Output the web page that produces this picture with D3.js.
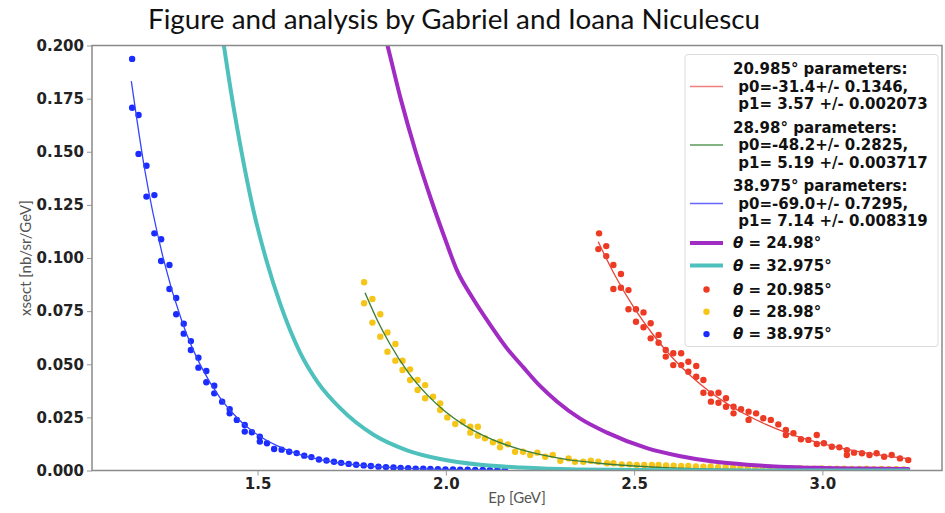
<!DOCTYPE html>
<html>
<head>
<meta charset="utf-8">
<script src="https://cdnjs.cloudflare.com/ajax/libs/d3/7.8.5/d3.min.js"></script>
<style>
  body { margin: 0; background: #fff; }
  svg { display: block; }
</style>
</head>
<body>
<div id="grafico"></div>
<script>
// eixo x e y
const xTicks = [1.5, 2.0, 2.5, 3.0];
const yTicks = [0, 0.025, 0.05, 0.075, 0.1, 0.125, 0.15, 0.175, 0.2];

// 20.985 graus, pontos
const redEp = [2.407,2.405,2.426,2.426,2.445,2.445,2.465,2.465,2.485,2.485,2.505,2.505,2.525,2.525,2.544,2.544,2.565,2.565,2.584,2.584,2.604,2.604,2.625,2.625,2.644,2.644,2.665,2.665,2.684,2.684,2.704,2.704,2.724,2.724,2.744,2.744,2.764,2.764,2.784,2.804,2.804,2.824,2.843,2.863,2.883,2.903,2.903,2.923,2.943,2.963,2.985,2.985,3.004,3.025,3.045,3.065,3.065,3.084,3.105,3.125,3.144,3.164,3.184,3.206,3.228];
const redXs = [0.1116,0.1042,0.1056,0.1009,0.0967,0.0854,0.0925,0.086,0.0849,0.0759,0.0759,0.07,0.0744,0.0674,0.0693,0.0622,0.0638,0.0601,0.0567,0.0536,0.0552,0.0496,0.0552,0.0496,0.0512,0.0465,0.0492,0.0441,0.0426,0.0366,0.0363,0.0324,0.0366,0.0319,0.034,0.03,0.03,0.0269,0.0288,0.0277,0.0238,0.0269,0.0246,0.0238,0.0217,0.0191,0.0167,0.0175,0.0147,0.0144,0.0167,0.0125,0.0128,0.0112,0.0109,0.0096,0.0073,0.0084,0.0081,0.0073,0.0081,0.0065,0.0073,0.0057,0.0049];

// 28.98 graus, pontos
const yellowEp = [1.783,1.783,1.805,1.805,1.826,1.826,1.845,1.845,1.866,1.866,1.885,1.885,1.905,1.905,1.925,1.925,1.945,1.945,1.966,1.985,1.985,2.004,2.025,2.045,2.065,2.065,2.085,2.085,2.104,2.125,2.144,2.144,2.165,2.184,2.205,2.224,2.243,2.264,2.284,2.304,2.326,2.343,2.365,2.385,2.405,2.428,2.445,2.467,2.488,2.507,2.527,2.547,2.565,2.585,2.605,2.625,2.644,2.664,2.684,2.703,2.723,2.743,2.763,2.782,2.802,2.822,2.841,2.861,2.881,2.901,2.920,2.940,2.960,2.979,2.999,3.019,3.039,3.058,3.078,3.098,3.117,3.137,3.157,3.177,3.196,3.216];
const yellowXs = [0.0886,0.0787,0.0807,0.0696,0.0735,0.063,0.065,0.0559,0.0595,0.0517,0.0517,0.0473,0.0476,0.0426,0.0426,0.0379,0.0402,0.034,0.0347,0.0316,0.0285,0.025,0.0219,0.023,0.0206,0.0178,0.0206,0.0164,0.0152,0.0133,0.0136,0.0109,0.0123,0.0088,0.0088,0.0073,0.0084,0.0065,0.0073,0.0046,0.0057,0.0041,0.0041,0.0046,0.0041,0.0034,0.0034,0.0029,0.0029,0.0026,0.0026,0.0026,0.0026,0.0024,0.0023,0.0021,0.0022,0.0019,0.0018,0.0019,0.0016,0.0017,0.0015,0.0014,0.0015,0.0013,0.0012,0.0013,0.0011,0.0011,0.001,0.0011,0.0009,0.0009,0.001,0.0008,0.0008,0.0009,0.0007,0.0007,0.0008,0.0006,0.0007,0.0006,0.0006,0.0005];

// 38.975 graus, pontos
const blueEp = [1.167,1.167,1.184,1.184,1.205,1.205,1.226,1.226,1.244,1.244,1.266,1.266,1.284,1.284,1.304,1.304,1.323,1.323,1.343,1.343,1.364,1.364,1.385,1.385,1.406,1.426,1.426,1.445,1.466,1.466,1.485,1.506,1.506,1.525,1.544,1.564,1.584,1.604,1.624,1.643,1.663,1.683,1.703,1.722,1.742,1.762,1.782,1.801,1.821,1.841,1.861,1.880,1.900,1.920,1.940,1.959,1.979,1.999,2.019,2.038,2.058,2.078,2.098,2.117,2.137,2.157];
const blueXs = [0.1937,0.1707,0.1673,0.149,0.1434,0.1289,0.1296,0.1116,0.1088,0.0986,0.0967,0.0854,0.0812,0.0735,0.0691,0.0644,0.0609,0.0567,0.0531,0.0484,0.0468,0.0415,0.0399,0.0363,0.0324,0.0289,0.0269,0.0238,0.0214,0.0183,0.018,0.0159,0.0136,0.0128,0.0101,0.0098,0.0088,0.0082,0.007,0.0063,0.0052,0.0047,0.0041,0.0036,0.0031,0.0027,0.0024,0.0021,0.0018,0.0016,0.0014,0.0012,0.0011,0.0009,0.0008,0.0007,0.0006,0.0005,0.0005,0.0004,0.0004,0.0003,0.0003,0.0002,0.0002,0.0002];

// curvas de ajuste
const redFitEp = [2.405,2.45,2.5,2.55,2.6,2.65,2.7,2.75,2.8,2.85,2.9,2.95,3.0,3.05,3.1,3.15,3.228];
const redFitXs = [0.1075,0.0915,0.0765,0.064,0.0534,0.0446,0.0372,0.0311,0.026,0.0217,0.0181,0.0151,0.0126,0.0105,0.0088,0.0074,0.0056];
const greenFitEp = [1.786,1.82,1.85,1.9,1.95,2.0,2.05,2.1,2.15,2.2,2.3,2.4,2.5,2.6,2.7,2.8,2.9,3.05,3.228];
const greenFitXs = [0.0834,0.0700,0.060,0.0462,0.0357,0.0275,0.0212,0.0164,0.0127,0.0098,0.0058,0.0035,0.0021,0.0012,0.0007,0.0004,0.00025,0.00012,0.00005];
const blueFitEp = [1.165,1.2,1.25,1.3,1.35,1.4,1.45,1.5,1.55,1.6,1.7,1.8,1.9,2.0,2.157];
const blueFitXs = [0.183,0.142,0.0996,0.0698,0.049,0.0343,0.024,0.0168,0.0118,0.0082,0.004,0.002,0.001,0.0005,0.00016];

// curvas grossas
const purpleEp = [1.83,1.845,1.88,1.92,1.96,2.0,2.029,2.07,2.118,2.16,2.206,2.25,2.295,2.356,2.428,2.534,2.62,2.71,2.8,2.887,3.0,3.1,3.228];
const purpleXs = [0.21,0.2,0.175,0.15,0.128,0.108,0.0944,0.0815,0.0685,0.058,0.0485,0.0398,0.0325,0.0245,0.0178,0.0105,0.0068,0.0042,0.0027,0.0018,0.0012,0.0009,0.0007];
const cyanEp = [1.39,1.40,1.42,1.454,1.489,1.525,1.56,1.613,1.66,1.72,1.808,1.897,1.985,2.091,2.2,2.35,2.6,2.9,3.228];
const cyanXs = [0.23,0.214,0.189,0.1532,0.1225,0.098,0.0785,0.0555,0.0415,0.0292,0.0168,0.0095,0.0054,0.0027,0.0014,0.0005,0.0001,0.00003,0.00001];

const legendFits = [
  { color: "#f08080", lines: ["20.985\u00b0 parameters:", " p0=-31.4+/- 0.1346,", " p1= 3.57 +/- 0.002073"] },
  { color: "#5a9a5a", lines: ["28.98\u00b0 parameters:", " p0=-48.2+/- 0.2825,", " p1= 5.19 +/- 0.003717"] },
  { color: "#6666ff", lines: ["38.975\u00b0 parameters:", " p0=-69.0+/- 0.7295,", " p1= 7.14 +/- 0.008319"] }
];
const legendCurves = [
  { color: "#a02cc4", label: "24.98\u00b0" },
  { color: "#4fc1bd", label: "32.975\u00b0" }
];
const legendDots = [
  { color: "#ee3a22", label: "20.985\u00b0" },
  { color: "#f5c518", label: "28.98\u00b0" },
  { color: "#1a2cff", label: "38.975\u00b0" }
];

const largura = 945, altura = 513;
const esq = 92, dir = 942, topo = 45.5, base = 470.5;

const x = d3.scaleLinear().domain([1.0604, 3.3176]).range([esq, dir]);
const y = d3.scaleLinear().domain([0, 0.2]).range([base, topo]);

const svg = d3.select("#grafico")
  .append("svg")
  .attr("width", largura)
  .attr("height", altura);

svg.append("defs").append("clipPath")
  .attr("id", "areaPlot")
  .append("rect")
  .attr("x", esq).attr("y", topo)
  .attr("width", dir - esq).attr("height", base - topo);

const plot = svg.append("g").attr("clip-path", "url(#areaPlot)");

function desenharPontos(eps, xs, cor) {
  plot.append("g")
    .selectAll("circle")
    .data(eps)
    .enter()
    .append("circle")
    .attr("cx", d => x(d))
    .attr("cy", (d, i) => y(xs[i]))
    .attr("r", 3.2)
    .attr("fill", cor);
}

function desenharLinha(eps, xs, cor, espessura) {
  const linha = d3.line()
    .x(d => x(d[0]))
    .y(d => y(d[1]))
    .curve(d3.curveMonotoneX);
  plot.append("path")
    .datum(eps.map((d, i) => [d, xs[i]]))
    .attr("d", linha)
    .attr("fill", "none")
    .attr("stroke", cor)
    .attr("stroke-width", espessura)
    .attr("stroke-linecap", "round");
}

desenharPontos(redEp, redXs, "#ee3a22");
desenharPontos(yellowEp, yellowXs, "#f5c518");
desenharPontos(blueEp, blueXs, "#1a2cff");

desenharLinha(redFitEp, redFitXs, "#e8453a", 1.3);
desenharLinha(greenFitEp, greenFitXs, "#3d7f3a", 1.4);
desenharLinha(blueFitEp, blueFitXs, "#3344ff", 1.3);
desenharLinha(purpleEp, purpleXs, "#a02cc4", 4);
desenharLinha(cyanEp, cyanXs, "#4fc1bd", 4);

// eixos
const eixoY = svg.append("g")
  .attr("transform", `translate(${esq},0)`)
  .call(d3.axisLeft(y).tickValues(yTicks).tickFormat(d3.format(".3f")).tickSize(5).tickSizeOuter(0));
const eixoX = svg.append("g")
  .attr("transform", `translate(0,${base})`)
  .call(d3.axisBottom(x).tickValues(xTicks).tickFormat(d3.format(".1f")).tickSize(5).tickSizeOuter(0));

[eixoY, eixoX].forEach(g => {
  g.select(".domain").remove();
  g.selectAll("line").attr("stroke", "#999").attr("stroke-width", 1);
  g.selectAll("text")
    .attr("font-family", "DejaVu Sans")
    .attr("font-weight", "bold")
    .attr("font-size", "15px")
    .attr("fill", "#222");
});
eixoY.selectAll("text").attr("x", -8);
eixoX.selectAll("text").attr("y", 8);

svg.append("rect")
  .attr("x", esq).attr("y", topo)
  .attr("width", dir - esq).attr("height", base - topo)
  .attr("fill", "none")
  .attr("stroke", "#8a8a8a")
  .attr("stroke-width", 1.5);

// textos
svg.append("text")
  .attr("x", 454).attr("y", 29)
  .attr("text-anchor", "middle")
  .attr("font-family", "Lato")
  .attr("font-size", "26px")
  .attr("fill", "#111")
  .attr("textLength", 612)
  .attr("lengthAdjust", "spacingAndGlyphs")
  .text("Figure and analysis by Gabriel and Ioana Niculescu");

svg.append("text")
  .attr("x", 517).attr("y", 503)
  .attr("text-anchor", "middle")
  .attr("font-family", "Lato")
  .attr("font-size", "15px")
  .attr("fill", "#555")
  .text("Ep [GeV]");

svg.append("text")
  .attr("transform", "translate(31,258) rotate(-90)")
  .attr("text-anchor", "middle")
  .attr("font-family", "Lato")
  .attr("font-size", "15px")
  .attr("fill", "#555")
  .text("xsect [nb/sr/GeV]");

// legenda
const leg = svg.append("g");
leg.append("rect")
  .attr("x", 685).attr("y", 54.5)
  .attr("width", 253).attr("height", 292)
  .attr("rx", 3)
  .attr("fill", "#fff")
  .attr("fill-opacity", 0.85)
  .attr("stroke", "#dcdcdc");

function textoLegenda(tx, ty, conteudo) {
  return leg.append("text")
    .attr("x", tx).attr("y", ty)
    .attr("dominant-baseline", "central")
    .attr("font-family", "DejaVu Sans")
    .attr("font-weight", "bold")
    .attr("font-size", "15px")
    .attr("fill", "#111")
    .attr("xml:space", "preserve")
    .text(conteudo);
}

legendFits.forEach((item, i) => {
  const cy = 86.5 + i * 58.5;
  leg.append("line")
    .attr("x1", 690).attr("x2", 723)
    .attr("y1", cy).attr("y2", cy)
    .attr("stroke", item.color)
    .attr("stroke-width", 1.5);
  item.lines.forEach((l, j) => {
    textoLegenda(733, cy + (j - 1) * 17.5, l);
  });
});

legendCurves.forEach((item, i) => {
  const cy = 243 + i * 22.5;
  leg.append("line")
    .attr("x1", 690).attr("x2", 723)
    .attr("y1", cy).attr("y2", cy)
    .attr("stroke", item.color)
    .attr("stroke-width", 4);
  const t = textoLegenda(733, cy, "");
  t.append("tspan").attr("font-style", "italic").text("\u03b8");
  t.append("tspan").text(" = " + item.label);
});

legendDots.forEach((item, i) => {
  const cy = 289.5 + i * 22.3;
  leg.append("circle")
    .attr("cx", 706.5).attr("cy", cy)
    .attr("r", 3.2)
    .attr("fill", item.color);
  const t = textoLegenda(733, cy, "");
  t.append("tspan").attr("font-style", "italic").text("\u03b8");
  t.append("tspan").text(" = " + item.label);
});
</script>
</body>
</html>
